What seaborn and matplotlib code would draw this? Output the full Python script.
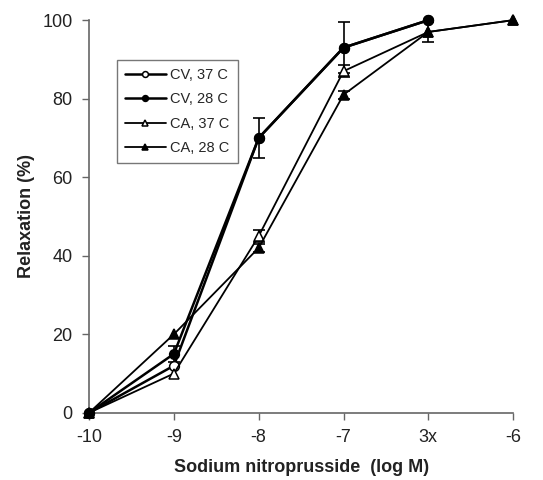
import matplotlib
matplotlib.use('Agg')
from matplotlib import pyplot as plt
import seaborn as sns
import pandas as pd
import numpy as np

# x categories (log M)
x_labels = ['-10', '-9', '-8', '-7', '3x', '-6']

cv37 = [0, 12, 70, 93, 100]
cv28 = [0, 15, 70, 93, 100]
ca37 = [0, 10, 45, 87, 97, 100]
ca28 = [0, 20, 42, 81, 97, 100]

# SEM values (0 = no visible bar)
cv28_err = [0, 2, 5, 6.5, 0]
ca37_err = [0, 0, 1.5, 1.5, 0, 0]
ca28_err = [0, 0, 1, 1, 2.5, 0]

series = [
    ('CV, 37 C', cv37, None, 'o', 'white', 1.8, 7),
    ('CV, 28 C', cv28, cv28_err, 'o', 'black', 1.8, 7),
    ('CA, 37 C', ca37, ca37_err, '^', 'white', 1.3, 7),
    ('CA, 28 C', ca28, ca28_err, '^', 'black', 1.3, 7),
]

sns.set_style('ticks')
plt.rcParams['font.family'] = ['Liberation Sans', 'DejaVu Sans']

fig, ax = plt.subplots(figsize=(5.43, 4.8), dpi=100)
fig.subplots_adjust(left=0.164, right=0.945, bottom=0.14, top=0.958)

for name, vals, errs, mk, fc, lw, ms in series:
    df = pd.DataFrame({'x': np.arange(len(vals)), 'y': vals})
    if errs is not None:
        e = np.array(errs, dtype=float)
        m = e > 0
        ax.errorbar(df['x'][m], df['y'][m], yerr=e[m], fmt='none',
                    ecolor='black', elinewidth=1.2, capsize=4, capthick=1.2,
                    zorder=2, clip_on=False)
    sns.lineplot(data=df, x='x', y='y', ax=ax, color='black', linewidth=lw,
                 marker=mk, markersize=ms, markerfacecolor=fc,
                 markeredgecolor='black', markeredgewidth=1.1,
                 label=name, clip_on=False, zorder=3)

ax.set_xlim(0, 5)
ax.set_ylim(0, 100)
ax.set_xticks(range(len(x_labels)))
ax.set_xticklabels(x_labels)
ax.set_yticks([0, 20, 40, 60, 80, 100])
ax.tick_params(labelsize=13, colors='#222222', length=5, width=1, pad=7)
for s in ['top', 'right']:
    ax.spines[s].set_visible(False)
for s in ['left', 'bottom']:
    ax.spines[s].set_color('#666666')
    ax.spines[s].set_linewidth(1.2)
ax.tick_params(axis='both', color='#666666')

ax.set_xlabel('Sodium nitroprusside  (log M)', fontsize=13, fontweight='bold',
              color='#222222', labelpad=9)
ax.set_ylabel('Relaxation (%)', fontsize=13, fontweight='bold', color='#222222',
              labelpad=5)

leg = ax.legend(loc='upper left', bbox_to_anchor=(0.066, 0.898),
                borderaxespad=0, fontsize=10.5, markerscale=0.6,
                frameon=True, fancybox=False, edgecolor='#555555',
                handlelength=2.8, handletextpad=0.3, borderpad=0.55,
                labelspacing=0.7)
leg.get_frame().set_linewidth(1.0)

plt.savefig('out.png', dpi=100)
